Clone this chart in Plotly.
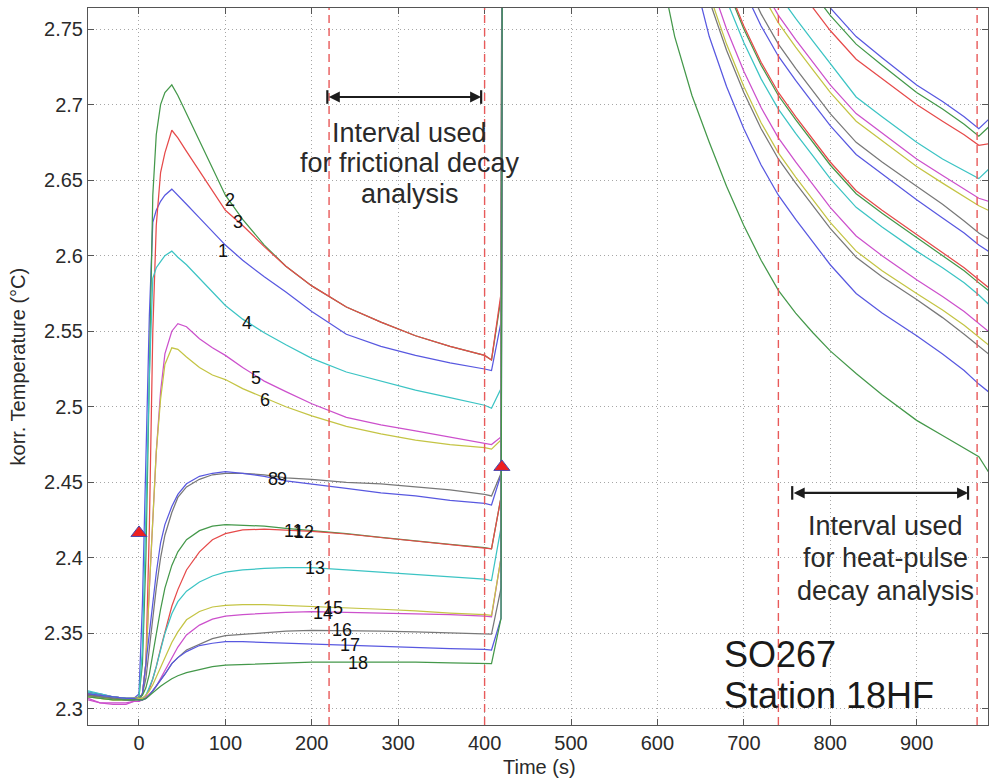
import plotly.graph_objects as go

# ---------------- data ----------------
TIME = [-59, -45, -30, -15, -6, 0, 4, 8, 12, 16, 20, 25, 30, 38, 45, 55, 70, 85, 100, 120,
        145, 170, 200, 240, 280, 320, 360, 400, 408, 419, 423,
        600, 620, 640, 660, 680, 700, 720, 740, 760, 780, 800, 830, 860, 900, 930, 955, 972, 983]

T01 = [2.311, 2.310, 2.308, 2.307, 2.307, 2.310, 2.370, 2.470, 2.560, 2.622, 2.630, 2.636, 2.640, 2.644, 2.640, 2.634, 2.625, 2.616, 2.607, 2.597,
       2.586, 2.576, 2.563, 2.548, 2.540, 2.534, 2.529, 2.525, 2.524, 2.556, 3.6,
       3.12, 3.03, 2.96, 2.915, 2.882, 2.854, 2.830, 2.810, 2.794, 2.779, 2.764, 2.745, 2.731, 2.713, 2.702, 2.692, 2.684, 2.690]
T02 = [2.310, 2.309, 2.308, 2.307, 2.307, 2.308, 2.330, 2.400, 2.520, 2.640, 2.680, 2.700, 2.708, 2.713, 2.706, 2.694, 2.676, 2.658, 2.640, 2.624,
       2.607, 2.593, 2.580, 2.566, 2.556, 2.547, 2.540, 2.534, 2.531, 2.572, 3.6,
       3.11, 3.02, 2.95, 2.91, 2.877, 2.849, 2.825, 2.805, 2.789, 2.774, 2.759, 2.740, 2.726, 2.708, 2.697, 2.687, 2.679, 2.685]
T03 = [2.311, 2.309, 2.307, 2.306, 2.307, 2.307, 2.310, 2.330, 2.420, 2.550, 2.620, 2.655, 2.668, 2.683, 2.678, 2.669, 2.656, 2.643, 2.630, 2.620,
       2.606, 2.593, 2.580, 2.566, 2.556, 2.547, 2.540, 2.534, 2.531, 2.575, 3.6,
       3.10, 3.01, 2.94, 2.90, 2.867, 2.839, 2.815, 2.795, 2.779, 2.764, 2.749, 2.730, 2.717, 2.700, 2.689, 2.680, 2.673, 2.674]
T04 = [2.312, 2.310, 2.308, 2.307, 2.307, 2.307, 2.340, 2.430, 2.520, 2.585, 2.592, 2.596, 2.600, 2.603, 2.599, 2.594, 2.585, 2.576, 2.567, 2.558,
       2.549, 2.541, 2.532, 2.523, 2.517, 2.511, 2.506, 2.501, 2.499, 2.512, 3.6,
       3.08, 2.99, 2.92, 2.878, 2.845, 2.817, 2.793, 2.773, 2.757, 2.742, 2.727, 2.705, 2.692, 2.675, 2.664, 2.656, 2.651, 2.657]
T05 = [2.307, 2.304, 2.303, 2.303, 2.305, 2.305, 2.310, 2.330, 2.380, 2.430, 2.470, 2.510, 2.535, 2.550, 2.555, 2.553, 2.545, 2.539, 2.534, 2.526,
       2.517, 2.510, 2.502, 2.493, 2.488, 2.484, 2.480, 2.476, 2.475, 2.480, 3.6,
       3.07, 2.98, 2.91, 2.864, 2.831, 2.803, 2.779, 2.759, 2.743, 2.728, 2.713, 2.694, 2.681, 2.664, 2.653, 2.644, 2.638, 2.636]
T06 = [2.309, 2.307, 2.306, 2.306, 2.307, 2.307, 2.310, 2.330, 2.380, 2.430, 2.470, 2.505, 2.528, 2.539, 2.538, 2.533, 2.526, 2.521, 2.518, 2.512,
       2.506, 2.500, 2.494, 2.487, 2.482, 2.478, 2.475, 2.473, 2.472, 2.478, 3.6,
       3.06, 2.97, 2.90, 2.859, 2.826, 2.798, 2.774, 2.754, 2.738, 2.723, 2.708, 2.689, 2.676, 2.659, 2.648, 2.639, 2.633, 2.630]
T08 = [2.310, 2.308, 2.307, 2.306, 2.306, 2.307, 2.310, 2.320, 2.340, 2.360, 2.380, 2.400, 2.415, 2.430, 2.440, 2.447, 2.452, 2.455, 2.456, 2.456,
       2.455, 2.453, 2.452, 2.450, 2.449, 2.447, 2.445, 2.442, 2.441, 2.456, 3.6,
       3.05, 2.96, 2.89, 2.845, 2.812, 2.784, 2.760, 2.740, 2.724, 2.709, 2.694, 2.675, 2.662, 2.646, 2.634, 2.623, 2.615, 2.611]
T09 = [2.311, 2.309, 2.307, 2.306, 2.306, 2.307, 2.310, 2.330, 2.350, 2.370, 2.390, 2.410, 2.422, 2.434, 2.442, 2.449, 2.454, 2.456, 2.457, 2.456,
       2.454, 2.451, 2.449, 2.446, 2.443, 2.441, 2.438, 2.436, 2.435, 2.455, 3.6,
       3.04, 2.95, 2.88, 2.837, 2.804, 2.776, 2.752, 2.732, 2.716, 2.701, 2.686, 2.667, 2.654, 2.637, 2.625, 2.615, 2.607, 2.603]
T11 = [2.309, 2.308, 2.307, 2.306, 2.306, 2.307, 2.309, 2.314, 2.323, 2.337, 2.350, 2.366, 2.380, 2.395, 2.404, 2.412, 2.418, 2.421, 2.422, 2.4215,
       2.421, 2.4195, 2.418, 2.416, 2.4135, 2.411, 2.409, 2.4068, 2.406, 2.440, 3.6,
       3.02, 2.93, 2.86, 2.811, 2.778, 2.750, 2.726, 2.706, 2.690, 2.675, 2.660, 2.641, 2.628, 2.612, 2.600, 2.590, 2.582, 2.577]
T12 = [2.310, 2.309, 2.308, 2.307, 2.307, 2.307, 2.307, 2.309, 2.313, 2.320, 2.328, 2.340, 2.351, 2.368, 2.379, 2.392, 2.404, 2.412, 2.416, 2.4185,
       2.419, 2.4185, 2.4175, 2.4158, 2.4135, 2.411, 2.409, 2.4068, 2.406, 2.440, 3.6,
       3.02, 2.93, 2.86, 2.813, 2.780, 2.752, 2.728, 2.708, 2.692, 2.677, 2.662, 2.643, 2.630, 2.614, 2.602, 2.592, 2.584, 2.579]
T13 = [2.311, 2.309, 2.308, 2.307, 2.307, 2.307, 2.307, 2.309, 2.314, 2.320, 2.328, 2.340, 2.350, 2.363, 2.371, 2.378, 2.384, 2.388, 2.3905, 2.392,
       2.393, 2.3935, 2.3935, 2.392, 2.3905, 2.389, 2.3875, 2.386, 2.385, 2.420, 3.6,
       3.01, 2.92, 2.85, 2.802, 2.769, 2.741, 2.717, 2.697, 2.681, 2.666, 2.651, 2.632, 2.619, 2.603, 2.592, 2.582, 2.574, 2.568]
T14 = [2.306, 2.304, 2.304, 2.304, 2.305, 2.305, 2.306, 2.308, 2.310, 2.312, 2.315, 2.320, 2.326, 2.334, 2.341, 2.349, 2.3555, 2.3595, 2.3615, 2.3625,
       2.3635, 2.364, 2.3645, 2.364, 2.3635, 2.363, 2.3625, 2.3615, 2.361, 2.400, 3.6,
       2.99, 2.90, 2.83, 2.783, 2.750, 2.722, 2.698, 2.678, 2.662, 2.647, 2.632, 2.613, 2.600, 2.584, 2.573, 2.563, 2.555, 2.550]
T15 = [2.308, 2.307, 2.306, 2.306, 2.307, 2.307, 2.307, 2.309, 2.312, 2.316, 2.321, 2.328, 2.334, 2.344, 2.351, 2.359, 2.3645, 2.3675, 2.3685, 2.369,
       2.369, 2.3685, 2.368, 2.367, 2.366, 2.365, 2.3635, 2.3625, 2.362, 2.400, 3.6,
       2.98, 2.89, 2.82, 2.773, 2.740, 2.712, 2.688, 2.668, 2.652, 2.637, 2.622, 2.603, 2.590, 2.575, 2.564, 2.554, 2.546, 2.541]
T16 = [2.309, 2.308, 2.307, 2.306, 2.306, 2.306, 2.306, 2.307, 2.309, 2.312, 2.315, 2.319, 2.323, 2.330, 2.334, 2.339, 2.343, 2.3465, 2.3485, 2.3495,
       2.3505, 2.3515, 2.352, 2.352, 2.3515, 2.351, 2.3505, 2.350, 2.3495, 2.380, 3.6,
       2.974, 2.884, 2.814, 2.769, 2.736, 2.708, 2.684, 2.664, 2.648, 2.633, 2.618, 2.599, 2.586, 2.571, 2.559, 2.548, 2.540, 2.535]
T17 = [2.310, 2.309, 2.308, 2.307, 2.307, 2.306, 2.306, 2.307, 2.309, 2.312, 2.315, 2.319, 2.323, 2.330, 2.334, 2.338, 2.342, 2.3435, 2.3445, 2.3445,
       2.344, 2.3435, 2.343, 2.3425, 2.3415, 2.3405, 2.340, 2.3395, 2.339, 2.360, 3.6,
       2.95, 2.86, 2.79, 2.745, 2.712, 2.684, 2.660, 2.640, 2.624, 2.609, 2.594, 2.575, 2.562, 2.547, 2.535, 2.524, 2.515, 2.510]
T18 = [2.308, 2.307, 2.306, 2.306, 2.306, 2.306, 2.306, 2.307, 2.309, 2.311, 2.313, 2.315, 2.317, 2.320, 2.322, 2.324, 2.326, 2.328, 2.329, 2.3295,
       2.330, 2.3305, 2.331, 2.331, 2.331, 2.331, 2.3305, 2.3305, 2.330, 2.360, 3.6,
       2.80, 2.745, 2.706, 2.675, 2.646, 2.620, 2.597, 2.577, 2.562, 2.549, 2.537, 2.522, 2.508, 2.491, 2.481, 2.473, 2.467, 2.457]

# curve number labels
LABEL_TEXT = ["2", "3", "1", "4", "5", "6", "8", "9", "11", "12", "13", "14", "15", "16", "17", "18"]
LABEL_T = [105, 115, 97, 125, 135.5, 146, 155, 165.5, 179, 191, 203.5, 213, 225, 235, 244, 253.5]
LABEL_Y = [2.6368, 2.6223, 2.6031, 2.5554, 2.5190, 2.5045, 2.4525, 2.4520, 2.4178, 2.4171, 2.3933, 2.3635, 2.3668, 2.3523, 2.3424, 2.3304]

# picks (red triangles)
PICK_T = [0, 420]
PICK_TEMP = [2.4165, 2.4602]

# analysis interval boundaries and arrows
INTERVAL_BOUNDS = [220, 400, 740, 970]
ARROW_FROM = [218, 756]
ARROW_TO = [396, 959.5]
ARROW_Y = [2.7050, 2.4430]

X_TICKS = [0, 100, 200, 300, 400, 500, 600, 700, 800, 900]
Y_TICKS = [2.3, 2.35, 2.4, 2.45, 2.5, 2.55, 2.6, 2.65, 2.7, 2.75]
Y_TICKTEXT = ["2.3", "2.35", "2.4", "2.45", "2.5", "2.55", "2.6", "2.65", "2.7", "2.75"]

BLUE = "#5858e0"
GREEN = "#44984a"
RED = "#e64a4a"
CYAN = "#3cc4c4"
MAGENTA = "#cc50cc"
YELLOW = "#c4c444"
GRAY = "#787878"

CURVES = [
    ("1", T01, BLUE), ("2", T02, GREEN), ("3", T03, RED), ("4", T04, CYAN),
    ("5", T05, MAGENTA), ("6", T06, YELLOW), ("8", T08, GRAY), ("9", T09, BLUE),
    ("11", T11, GREEN), ("12", T12, RED), ("13", T13, CYAN), ("14", T14, MAGENTA),
    ("15", T15, YELLOW), ("16", T16, GRAY), ("17", T17, BLUE), ("18", T18, GREEN),
]
for _n, _v, _c in CURVES:
    assert len(_v) == len(TIME), (_n, len(_v))

FONT = "Liberation Sans, Arial, sans-serif"

fig = go.Figure()
for name, vals, col in CURVES:
    fig.add_trace(go.Scatter(x=TIME, y=vals, mode="lines", name=name,
                             line=dict(color=col, width=1.25),
                             showlegend=False, hoverinfo="skip"))

fig.add_trace(go.Scatter(x=PICK_T, y=PICK_TEMP, mode="markers", showlegend=False,
                         marker=dict(symbol="triangle-up", size=14, color="#ee2020",
                                     line=dict(color="#4848b0", width=1)),
                         hoverinfo="skip", cliponaxis=False))

for xb in INTERVAL_BOUNDS:
    fig.add_shape(type="line", xref="x", yref="paper", x0=xb, x1=xb, y0=0, y1=1,
                  line=dict(color="#e85a5a", width=1.4, dash="8px,5px"))

for x0, x1, y in zip(ARROW_FROM, ARROW_TO, ARROW_Y):
    fig.add_annotation(x=x1, y=y, ax=x0, ay=y, xref="x", yref="y", axref="x", ayref="y",
                       text="", showarrow=True, arrowhead=2, startarrowhead=2,
                       arrowside="end+start", arrowwidth=2.2, arrowsize=1.0,
                       startarrowsize=1.0, arrowcolor="#1c1c1c")
    for xe in (x0, x1):
        fig.add_shape(type="line", xref="x", yref="y", x0=xe, x1=xe,
                      y0=y - 0.0045, y1=y + 0.0045, line=dict(color="#1c1c1c", width=2.2))

for txt, t, y in zip(LABEL_TEXT, LABEL_T, LABEL_Y):
    fig.add_annotation(x=t, y=y, text=txt, showarrow=False, xref="x", yref="y",
                       xanchor="center", yanchor="middle",
                       font=dict(family=FONT, size=18, color="#111111"))

# interval texts (one annotation per line)
FRIC_LINES = ["Interval used", "for frictional decay", "analysis"]
FRIC_Y = [2.6815, 2.6610, 2.6411]
for txt, y in zip(FRIC_LINES, FRIC_Y):
    fig.add_annotation(x=313.5, y=y, text=txt, showarrow=False, xref="x", yref="y",
                       xanchor="center", yanchor="middle",
                       font=dict(family=FONT, size=27, color="#2a2a2a"))
HEAT_LINES = ["Interval used", "for heat-pulse", "decay analysis"]
HEAT_Y = [2.4214, 2.3996, 2.3784]
for txt, y in zip(HEAT_LINES, HEAT_Y):
    fig.add_annotation(x=864.5, y=y, text=txt, showarrow=False, xref="x", yref="y",
                       xanchor="center", yanchor="middle",
                       font=dict(family=FONT, size=27, color="#2a2a2a"))
STATION_LINES = ["SO267", "Station 18HF"]
STATION_Y = [2.3361, 2.3089]
for txt, y in zip(STATION_LINES, STATION_Y):
    fig.add_annotation(x=674.5, y=y, text=txt, showarrow=False, xref="x", yref="y",
                       xanchor="left", yanchor="middle",
                       font=dict(family=FONT, size=36, color="#1a1a1a"))

# axis titles
fig.add_annotation(text="Time (s)", xref="paper", yref="paper", x=0.5017, y=-0.058,
                   showarrow=False, xanchor="center", yanchor="middle",
                   font=dict(family=FONT, size=20, color="#2a2a2a"))
fig.add_annotation(text="korr. Temperature (°C)", xref="paper", yref="paper", x=-0.0778, y=0.5,
                   showarrow=False, xanchor="center", yanchor="middle", textangle=-90,
                   font=dict(family=FONT, size=20, color="#2a2a2a"))

axis_common = dict(showgrid=True, gridcolor="#a6a6a6", gridwidth=1, griddash="1px,3px",
                   zeroline=False, showline=True, linecolor="#555555", linewidth=1,
                   mirror="ticks", ticks="inside", ticklen=6, tickcolor="#555555",
                   tickfont=dict(family=FONT, size=20, color="#2a2a2a"))
fig.update_xaxes(range=[-59, 982.6], tickvals=X_TICKS, ticktext=[str(v) for v in X_TICKS],
                 **axis_common)
fig.update_yaxes(range=[2.2894, 2.7639], tickvals=Y_TICKS, ticktext=Y_TICKTEXT, **axis_common)

fig.update_layout(width=990, height=782, margin=dict(l=88, r=2, t=8, b=57, autoexpand=False),
                  plot_bgcolor="white", paper_bgcolor="white", showlegend=False,
                  font=dict(family=FONT, size=20, color="#2a2a2a"))

fig.write_html("out.html")
